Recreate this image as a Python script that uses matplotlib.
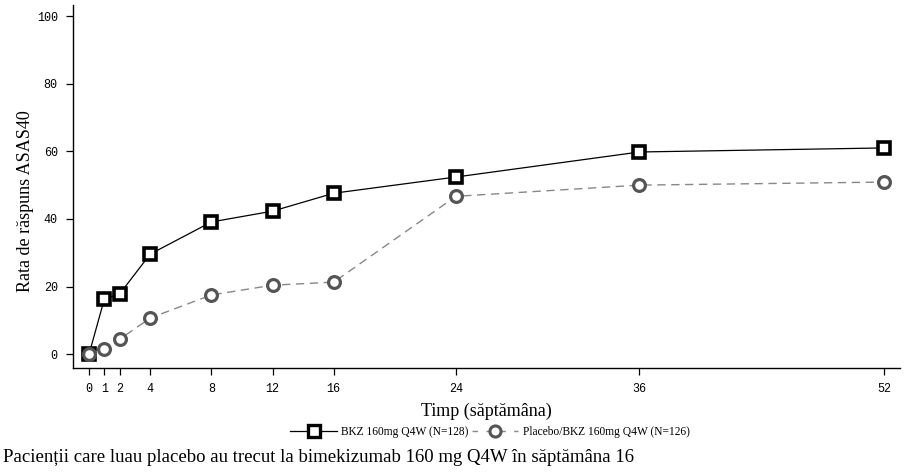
import matplotlib
matplotlib.use('Agg')
import matplotlib.pyplot as plt
from matplotlib.lines import Line2D

weeks = [0, 1, 2, 4, 8, 12, 16, 24, 36, 52]
bkz = [0, 16.3, 17.8, 29.6, 39.1, 42.3, 47.6, 52.4, 59.8, 61.0]
placebo = [0, 1.5, 4.4, 10.7, 17.5, 20.4, 21.3, 46.7, 50.0, 50.9]
yticks = [0, 20, 40, 60, 80, 100]

bkz_label = 'BKZ 160mg Q4W (N=128)'
pbo_label = 'Placebo/BKZ 160mg Q4W (N=126)'

fig = plt.figure(figsize=(9.16, 4.74), dpi=100)
ax = fig.add_axes([0.0797, 0.2236, 0.903, 0.766])

ax.plot(weeks, bkz, color='black', lw=0.9, marker='s', ms=9,
        mfc='white', mec='black', mew=2.6, zorder=3)
ax.plot(weeks, placebo, color='#888888', lw=1.0, ls=(0, (6, 4)), marker='o',
        ms=8.5, mfc='white', mec='#555555', mew=2.3, zorder=4)

ax.set_xlim(-1.05, 53.05)
ax.set_ylim(-4.1, 103.3)
ax.set_xticks(weeks)
ax.set_yticks(yticks)
ax.spines['top'].set_visible(False)
ax.spines['right'].set_visible(False)
for s in ['left', 'bottom']:
    ax.spines[s].set_linewidth(1.0)
ax.tick_params(direction='out', length=5, width=0.9, labelsize=8.5, pad=6)
for lab in ax.get_xticklabels() + ax.get_yticklabels():
    lab.set_family('Liberation Mono')

ax.set_xlabel('Timp (săptămâna)', family='Liberation Serif', fontsize=13,
              labelpad=5)
ax.set_ylabel('Rata de răspuns ASAS40', family='Liberation Serif',
              fontsize=13, labelpad=16)
ax.yaxis.set_label_coords(-0.047, 0.46)

handles = [
    Line2D([], [], color='black', lw=0.9, marker='s', ms=8, mfc='white',
           mec='black', mew=2.4),
    Line2D([], [], color='#888888', lw=1.0, ls=(0, (4, 6)), marker='o', ms=8,
           mfc='white', mec='#555555', mew=2.2),
]
fig.legend(handles, [bkz_label, pbo_label], loc='center',
           bbox_to_anchor=(0.535, 0.088), ncol=2, frameon=False,
           prop={'family': 'Liberation Serif', 'size': 8.3},
           handlelength=4.0, columnspacing=0.3, handletextpad=0.4)

fig.text(0.003, 0.035, 'Pacienții care luau placebo au trecut la bimekizumab 160 mg Q4W în săptămâna 16',
         family='Liberation Serif', fontsize=13.5, ha='left', va='center')

fig.savefig('out.png', dpi=100)
